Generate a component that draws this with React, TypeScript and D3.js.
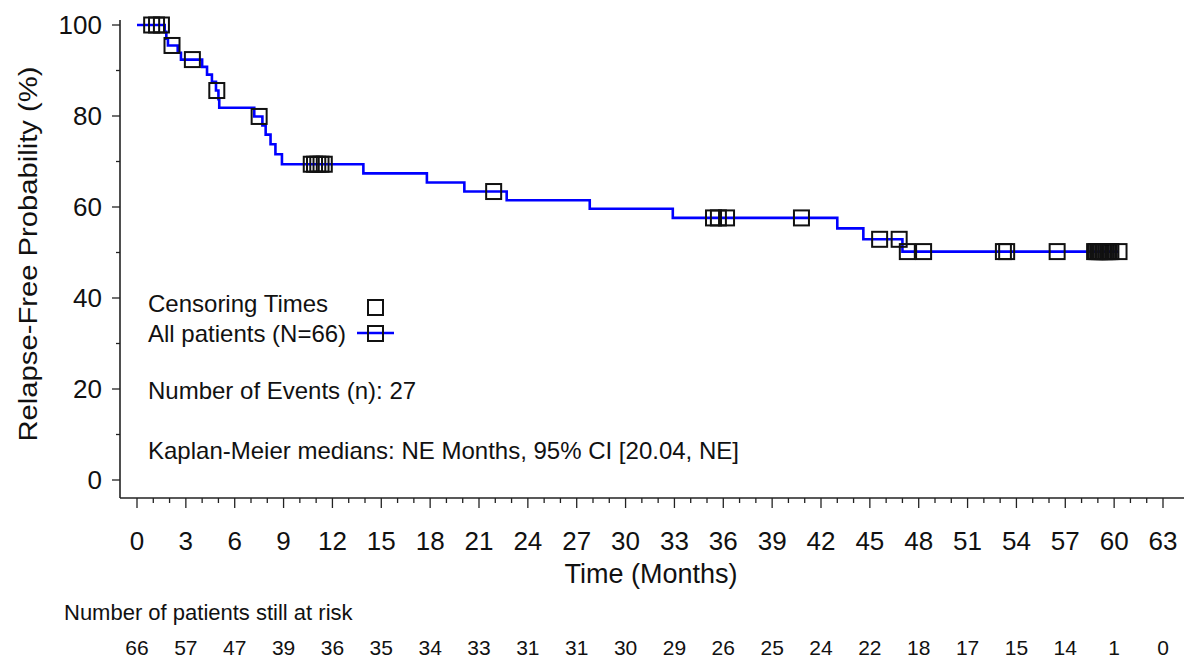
import React, { useEffect, useRef } from 'react';
import * as d3 from 'd3';

// step times (months) and survival (%) right after each step
const eventTimes = [1.7, 1.8, 1.9, 2.5, 2.7, 4.0, 4.3, 4.6, 4.85, 5.0, 5.05, 7.2, 7.7, 7.9, 8.2, 8.5, 8.9, 13.9, 17.8, 20.1, 22.7, 27.8, 32.9, 43.0, 44.6, 47.0];
const survival = [98.5, 97.0, 95.5, 93.9, 92.4, 90.8, 89.1, 87.5, 85.6, 83.7, 81.8, 79.9, 77.9, 75.9, 73.8, 71.6, 69.4, 67.4, 65.4, 63.4, 61.5, 59.6, 57.6, 55.3, 52.9, 50.2];
const lastFollowUp = 60.3;

const censorTimes = [0.9, 1.2, 1.5, 2.15, 3.4, 4.9, 7.5, 10.7, 10.9, 11.1, 11.3, 11.5, 21.9, 35.4, 35.7, 36.2, 40.8, 45.6, 46.8, 47.3, 48.3, 53.2, 53.4, 56.5,
  58.8, 58.9, 59.0, 59.1, 59.2, 59.3, 59.4, 59.5, 59.6, 59.7, 59.8, 60.3];

const xTicks = d3.range(0, 64, 3);
const yTicks = [0, 20, 40, 60, 80, 100];
const atRisk = [66, 57, 47, 39, 36, 35, 34, 33, 31, 31, 30, 29, 26, 25, 24, 22, 18, 17, 15, 14, 1, 0];

const FONT = 'Arial, "Liberation Sans", sans-serif';

function KMChart() {
  const ref = useRef<SVGSVGElement>(null);

  useEffect(() => {
    document.body.style.margin = '0';
    document.body.style.overflow = 'hidden';

    const svg = d3.select(ref.current);
    svg.selectAll('*').remove();

    const x = d3.scaleLinear().domain([0, 63]).range([137, 1163]);
    const y = d3.scaleLinear().domain([0, 100]).range([480, 25]);
    const axisX = 120;
    const axisY = 498;

    const survAt = (t: number) => {
      let s = 100;
      eventTimes.forEach((e, i) => { if (e <= t) s = survival[i]; });
      return s;
    };

    // axes
    svg.append('line').attr('x1', axisX).attr('x2', axisX).attr('y1', 20).attr('y2', axisY)
      .attr('stroke', '#222').attr('stroke-width', 1.6);
    svg.append('line').attr('x1', axisX).attr('x2', 1184).attr('y1', axisY).attr('y2', axisY)
      .attr('stroke', '#222').attr('stroke-width', 1.6);

    d3.range(0, 101, 10).forEach(v => {
      const major = v % 20 === 0;
      svg.append('line').attr('x1', axisX - (major ? 8 : 4)).attr('x2', axisX)
        .attr('y1', y(v)).attr('y2', y(v)).attr('stroke', '#222').attr('stroke-width', 1.3);
    });
    yTicks.forEach(v => {
      svg.append('text').attr('x', 102).attr('y', y(v)).attr('dy', '0.36em')
        .attr('text-anchor', 'end').attr('font-size', 26).attr('font-family', FONT).attr('fill', '#111')
        .text(v);
    });

    d3.range(0, 64, 1).forEach(v => {
      const major = v % 3 === 0;
      svg.append('line').attr('x1', x(v)).attr('x2', x(v))
        .attr('y1', axisY).attr('y2', axisY + (major ? 10 : 5)).attr('stroke', '#222').attr('stroke-width', 1.3);
    });
    xTicks.forEach(v => {
      svg.append('text').attr('x', x(v)).attr('y', 550)
        .attr('text-anchor', 'middle').attr('font-size', 26).attr('font-family', FONT).attr('fill', '#111')
        .text(v);
    });

    svg.append('text').attr('x', 651).attr('y', 583).attr('text-anchor', 'middle')
      .attr('font-size', 27).attr('font-family', FONT).attr('fill', '#111').text('Time (Months)');

    svg.append('text').attr('transform', 'translate(37,254) rotate(-90)').attr('text-anchor', 'middle')
      .attr('font-size', 25).attr('font-family', FONT).attr('fill', '#111')
      .attr('textLength', 375).attr('lengthAdjust', 'spacingAndGlyphs')
      .text('Relapse-Free Probability (%)');

    // KM curve
    const pts: [number, number][] = [[0, 100]];
    eventTimes.forEach((t, i) => pts.push([t, survival[i]]));
    pts.push([lastFollowUp, survAt(lastFollowUp)]);
    const line = d3.line<[number, number]>().x(d => x(d[0])).y(d => y(d[1])).curve(d3.curveStepAfter);
    svg.append('path').attr('d', line(pts)).attr('fill', 'none').attr('stroke', '#0000ff').attr('stroke-width', 2.6);

    // censor marks
    const sz = 15;
    svg.selectAll('.censor').data(censorTimes).enter().append('rect')
      .attr('class', 'censor')
      .attr('x', d => x(d) - sz / 2).attr('y', d => y(survAt(d)) - sz / 2)
      .attr('width', sz).attr('height', sz)
      .attr('fill', 'none').attr('stroke', '#111').attr('stroke-width', 2);

    // legend
    const lg = svg.append('g').attr('font-family', FONT).attr('font-size', 24).attr('fill', '#111');
    lg.append('text').attr('x', 148).attr('y', 312).text('Censoring Times');
    lg.append('rect').attr('x', 368).attr('y', 300).attr('width', 15).attr('height', 15)
      .attr('fill', 'none').attr('stroke', '#111').attr('stroke-width', 2);
    lg.append('text').attr('x', 148).attr('y', 342).text('All patients (N=66)');
    lg.append('line').attr('x1', 357).attr('x2', 394).attr('y1', 333).attr('y2', 333)
      .attr('stroke', '#0000ff').attr('stroke-width', 2.6);
    lg.append('rect').attr('x', 368).attr('y', 326).attr('width', 15).attr('height', 15)
      .attr('fill', 'none').attr('stroke', '#111').attr('stroke-width', 2);
    lg.append('text').attr('x', 148).attr('y', 399).text('Number of Events (n): 27');
    lg.append('text').attr('x', 148).attr('y', 459).text('Kaplan-Meier medians: NE Months, 95% CI [20.04, NE]');

    // at-risk table
    svg.append('text').attr('x', 64).attr('y', 620).attr('font-size', 22).attr('font-family', FONT)
      .attr('fill', '#111').text('Number of patients still at risk');
    svg.selectAll('.risk').data(atRisk).enter().append('text')
      .attr('class', 'risk')
      .attr('x', (d, i) => x(xTicks[i])).attr('y', 655)
      .attr('text-anchor', 'middle').attr('font-size', 21).attr('font-family', FONT).attr('fill', '#111')
      .text(d => d);
  }, []);

  return (
    <svg ref={ref} width={1184} height={662}
      style={{ display: 'block', background: '#fff', position: 'absolute', top: 0, left: 0 }} />
  );
}

export default function App() {
  return <KMChart />;
}
